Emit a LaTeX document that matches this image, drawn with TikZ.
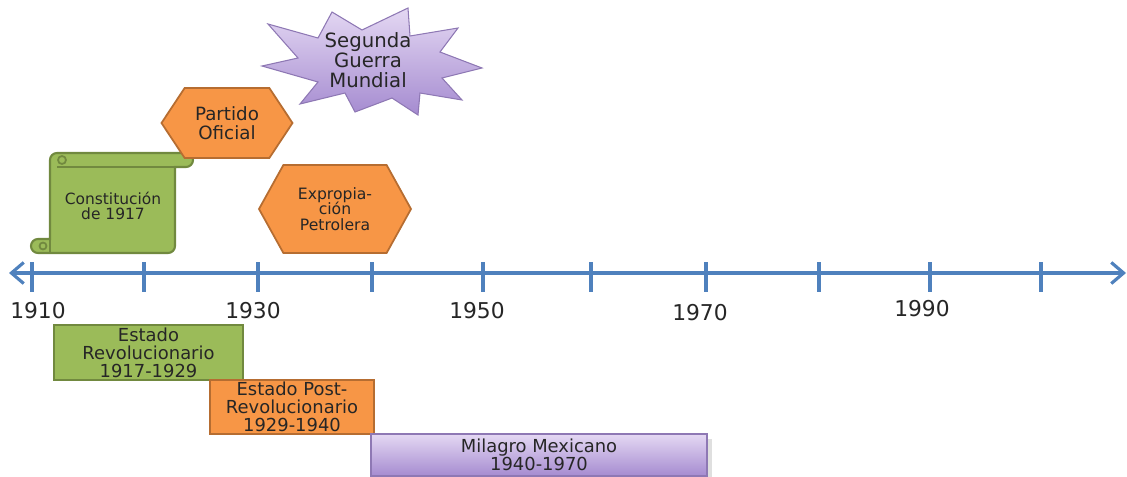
\documentclass[tikz,border=0pt]{standalone}
\usepackage{fontspec}
\setmainfont{DejaVu Sans}
\usetikzlibrary{shapes.symbols,arrows.meta,shadows}
\definecolor{axisblue}{HTML}{4F81BD}
\definecolor{greenfill}{HTML}{9BBB59}
\definecolor{greenline}{HTML}{71893F}
\definecolor{orangefill}{HTML}{F79646}
\definecolor{orangeline}{HTML}{B66D31}
\definecolor{lilaclight}{HTML}{E4D8F3}
\definecolor{lilacdark}{HTML}{A58BD0}
\definecolor{lilacline}{HTML}{8E78B4}
\definecolor{textgray}{HTML}{262626}
\tikzset
{
    axis/.style    = {draw=axisblue, line width=1.8pt},
    year/.style    = {text=textgray, font=\fontsize{12.4}{13}\selectfont},
    period/.style  = {rectangle, line width=1pt, align=center, inner sep=0pt, text=textgray, font=\fontsize{10.2}{10.3}\selectfont},
    hexnode/.style = {signal, signal to=west and east, draw=orangeline, fill=orangefill, line width=1pt, align=center, inner sep=0pt, text=textgray},
    scroll/.style  = {draw=greenline, fill=greenfill, line width=1.2pt}
}
\begin{document}
\begin{tikzpicture}[x=0.02cm, y=-0.02cm]
    \useasboundingbox (0,0) rectangle (1127,477);
    % timeline
    \coordinate (axl) at (9,273);
    \coordinate (axr) at (1126,273);
    \draw[axis, {Straight Barb[length=7pt,width=12pt]}-{Straight Barb[length=7pt,width=12pt]}] (axl) -- (axr);
    \foreach \x in {32,144,258,372,483,591,706,819,930,1041}
        \draw[axis] (\x,262) -- (\x,292);
    \node [year] (y1910) at (38,311) {1910};
    \node [year] (y1930) at (253,311) {1930};
    \node [year] (y1950) at (477,311) {1950};
    \node [year] (y1970) at (700,313) {1970};
    \node [year] (y1990) at (922,309) {1990};
    % scroll
    \filldraw[scroll] (57,153) -- (186,153) arc[start angle=-90, end angle=90, radius=7]
        -- (175,167) -- (175,246) arc[start angle=0, end angle=90, radius=7]
        -- (38,253) arc[start angle=90, end angle=270, radius=7]
        -- (50,239) -- (50,160) arc[start angle=180, end angle=270, radius=7] -- cycle;
    \draw[draw=greenline, line width=1pt] (62,160) circle[radius=4] (57,167) -- (186,167);
    \draw[draw=greenline, line width=1pt] (43,246) circle[radius=3.5] (50,239) -- (50,253);
    \node [text=textgray, align=center, font=\fontsize{8.8}{9}\selectfont] (constitucion) at (113,206) {Constitución\\de 1917};
    % hexagons
    \node [hexnode, minimum width=131*0.02cm, minimum height=70*0.02cm, signal pointer angle=113, font=\fontsize{10.4}{10.6}\selectfont] (partido) at (227,123) {Partido\\Oficial};
    \node [hexnode, minimum width=152*0.02cm, minimum height=88*0.02cm, signal pointer angle=122, font=\fontsize{8.9}{9}\selectfont] (expropiacion) at (335,209) {Expropia-\\ción\\Petrolera};
    % explosion
    \draw[draw=lilacline, line width=0.6pt, top color=lilaclight, bottom color=lilacdark]
        (408,8) -- (410,36) -- (458,28) -- (440,52) -- (482,68) -- (442,78) -- (462,100)
        -- (420,93) -- (418,115) -- (392,98) -- (355,112) -- (345,93) -- (300,104)
        -- (318,82) -- (262,66) -- (298,58) -- (268,24) -- (318,38) -- (332,12) -- (362,30) -- cycle;
    \node [text=textgray, align=center, font=\fontsize{11.2}{11.4}\selectfont] (guerra) at (368,60) {Segunda\\Guerra\\Mundial};
    % periods
    \node [period, draw=greenline, fill=greenfill, minimum width=189*0.02cm, minimum height=55*0.02cm] (revolucionario) at (148.5,352.5) {Estado\\Revolucionario\\1917-1929};
    \node [period, draw=orangeline, fill=orangefill, minimum width=164*0.02cm, minimum height=54*0.02cm] (postrev) at (292,407) {Estado Post-\\Revolucionario\\1929-1940};
    \node [period, draw=lilacline, top color=lilaclight, bottom color=lilacdark, drop shadow={opacity=0.25}, minimum width=336*0.02cm, minimum height=42*0.02cm] (milagro) at (539,455) {Milagro Mexicano\\1940-1970};
\end{tikzpicture}
\end{document}
